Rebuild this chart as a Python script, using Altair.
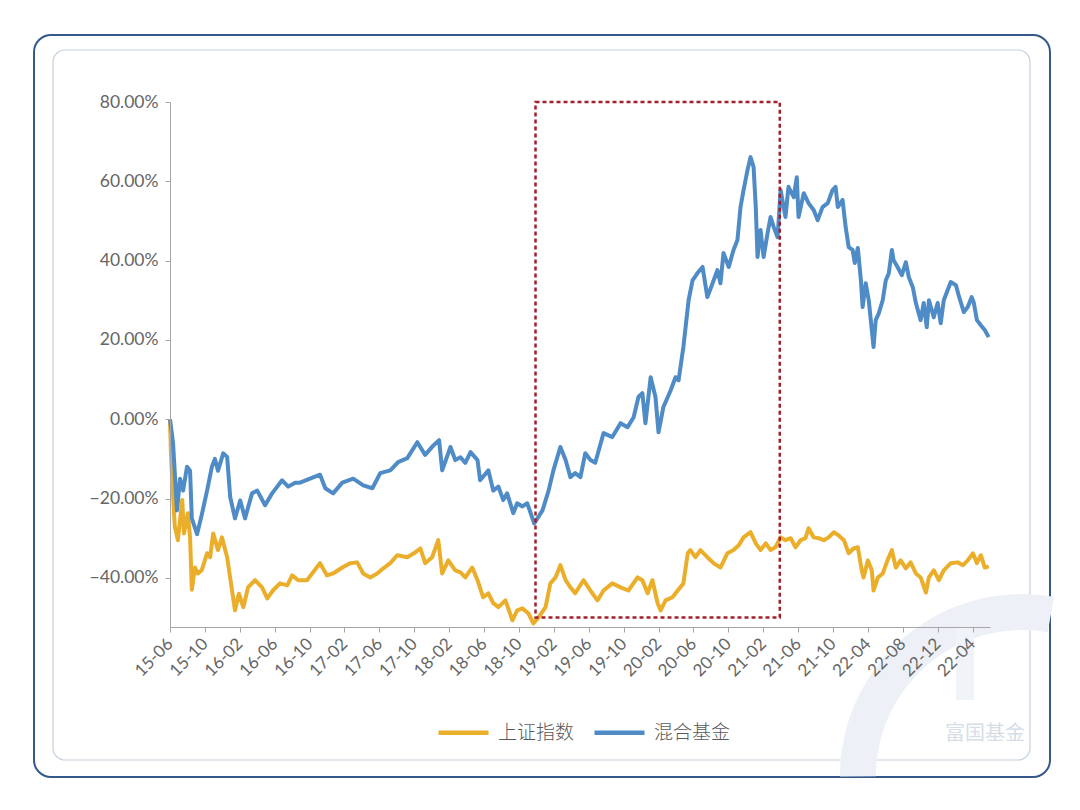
import altair as alt
import pandas as pd

# x is a trading-day style index: 80 units between consecutive axis labels
tick_labels = ["15-06", "15-10", "16-02", "16-06", "16-10", "17-02", "17-06", "17-10",
               "18-02", "18-06", "18-10", "19-02", "19-06", "19-10", "20-02", "20-06",
               "20-10", "21-02", "21-06", "21-10", "22-04", "22-08", "22-12", "22-04"]
tick_values = [0, 80, 160, 240, 320, 400, 480, 560, 640, 720, 800, 880, 960, 1040,
               1120, 1200, 1280, 1360, 1440, 1520, 1600, 1680, 1760, 1840]

y_ticks = [-40, -20, 0, 20, 40, 60, 80]

fund_x = [0, 7, 16, 23, 30, 39, 46, 50, 62, 73, 85, 96, 103, 110, 122, 131, 138, 149, 161, 172,
          188, 200, 218, 234, 257, 271, 287, 298, 321, 344, 356, 374, 395, 420, 443, 464, 482,
          505, 523, 544, 567, 585, 604, 617, 624, 643, 654, 666, 677, 689, 705, 711, 730, 741,
          753, 764, 773, 787, 796, 808, 819, 826, 835, 854, 868, 879, 895, 907, 918, 929, 941,
          952, 964, 975, 994, 1014, 1033, 1049, 1063, 1074, 1083, 1090, 1102, 1113, 1120, 1131,
          1148, 1159, 1166, 1177, 1189, 1198, 1209, 1221, 1232, 1244, 1255, 1262, 1269, 1281,
          1292, 1301, 1308, 1315, 1324, 1331, 1338, 1343, 1347, 1354, 1361, 1370, 1377, 1384,
          1393, 1400, 1411, 1418, 1430, 1437, 1441, 1453, 1464, 1476, 1485, 1496, 1508, 1519,
          1526, 1531, 1542, 1549, 1556, 1565, 1570, 1577, 1584, 1588, 1595, 1602, 1613, 1618,
          1625, 1634, 1641, 1648, 1655, 1659, 1668, 1678, 1687, 1694, 1703, 1710, 1721, 1728,
          1735, 1740, 1751, 1760, 1767, 1774, 1783, 1790, 1802, 1808, 1820, 1829, 1838, 1843,
          1850, 1859, 1868, 1877]
fund_y = [0, -6, -23, -15, -18, -12, -13, -25, -29, -24, -18, -12, -10, -13, -8.6, -9.5, -19.6,
          -25, -20.5, -25, -18.7, -18, -21.7, -18.7, -15.4, -17, -16, -16, -15, -14, -17.4, -18.7,
          -16, -15, -16.7, -17.4, -13.6, -12.9, -10.8, -9.8, -5.8, -9, -6.6, -5.3, -12.9, -7,
          -10.3, -9.6, -11, -8.3, -10.3, -15.4, -12.9, -18, -17, -20.4, -18.7, -23.7, -21.2, -22,
          -21.2, -23.4, -26.3, -23, -18, -12.9, -7, -10.3, -14.6, -13.6, -14.6, -8.6, -10.3, -11,
          -3.5, -4.5, -1, -2, 0.5, 5.6, 6.6, -1, 10.6, 5.6, -3.3, 3, 7.3, 10.6, 9.8, 18.2, 30,
          35, 36.8, 38.4, 30.8, 34.3, 37.6, 34.3, 41.9, 38.4, 42.7, 45.2, 53.5, 57.8, 62.8, 66.1,
          63.6, 53.5, 40.9, 47.7, 40.9, 46.9, 51, 48.5, 45.9, 57.8, 51, 58.6, 56, 61, 51, 57,
          54.5, 52.7, 50.2, 53.5, 54.5, 57.8, 58.6, 53.5, 55.3, 48.5, 43.4, 42.7, 39.4, 43.2, 35,
          28.3, 34.3, 30, 18.2, 25, 26.7, 30, 35, 36.8, 42.7, 40.1, 38.4, 36.3, 39.6, 35.8, 33.3,
          29.3, 25, 29.3, 23.2, 30, 25.7, 29.3, 24.2, 30, 32.6, 34.6, 33.8, 31.3, 27, 28.3, 30.8,
          29.3, 25, 23.7, 22.5, 20.7]

index_x = [0, 2, 5, 11, 18, 23, 28, 32, 41, 46, 50, 57, 64, 73, 85, 92, 99, 110, 119, 131, 142,
           149, 158, 168, 179, 195, 211, 223, 236, 252, 269, 280, 294, 314, 328, 344, 360, 374,
           395, 413, 429, 443, 459, 475, 489, 505, 521, 544, 562, 574, 585, 601, 615, 624, 638,
           654, 666, 677, 693, 705, 718, 730, 741, 753, 769, 785, 796, 808, 822, 833, 845, 861,
           872, 884, 895, 907, 918, 929, 948, 964, 980, 994, 1014, 1033, 1051, 1072, 1083, 1095,
           1106, 1118, 1125, 1136, 1152, 1164, 1177, 1187, 1193, 1205, 1216, 1232, 1246, 1262,
           1278, 1292, 1304, 1315, 1331, 1343, 1354, 1366, 1377, 1388, 1400, 1411, 1423, 1434,
           1446, 1457, 1464, 1476, 1487, 1499, 1510, 1522, 1533, 1545, 1556, 1567, 1577, 1586,
           1590, 1600, 1609, 1613, 1623, 1634, 1645, 1655, 1664, 1675, 1687, 1698, 1710, 1721,
           1733, 1740, 1751, 1763, 1774, 1790, 1806, 1818, 1829, 1841, 1850, 1859, 1868, 1877]
index_y = [0, -8, -15.4, -27, -30.5, -25.5, -20.4, -28.8, -23.7, -29.8, -43, -37.4, -38.9, -38,
           -33.8, -34.8, -28.8, -33, -29.8, -34.8, -43, -48.2, -44, -47.4, -42.4, -40.6, -42.4,
           -45.2, -43.2, -41.4, -41.9, -39.4, -40.6, -40.6, -38.6, -36.3, -39.4, -38.9, -37.4,
           -36.3, -36.1, -38.9, -39.9, -38.9, -37.6, -36.3, -34.3, -34.8, -33.6, -32.6, -36.3,
           -34.8, -30.5, -38.9, -35.6, -38.1, -38.6, -39.9, -37.4, -40.6, -44.9, -43.9, -46.4,
           -47.4, -45.7, -50.7, -48.2, -47.7, -49, -51.5, -50, -47.4, -41.4, -39.9, -36.8, -40.6,
           -42.4, -43.9, -40.6, -43.2, -45.7, -43.2, -41.4, -42.4, -43.2, -39.9, -40.6, -43.9,
           -40.6, -46.4, -48.2, -45.7, -44.9, -43.2, -41.4, -33.8, -33, -34.8, -33, -34.8, -36.3,
           -37.4, -33.8, -33, -31.8, -29.8, -28.5, -31.3, -33, -31.3, -33, -32.3, -29.8, -30.5,
           -30, -32.3, -30.5, -30, -27.5, -29.8, -30, -30.5, -29.8, -28.5, -29.3, -30.5, -33.8,
           -32.6, -32.3, -38.1, -39.9, -35.6, -38.1, -43.2, -39.9, -38.9, -35.6, -33, -37.4,
           -35.6, -37.6, -36.1, -38.9, -39.9, -43.7, -39.9, -38.1, -40.6, -38.1, -36.3, -36.1,
           -36.8, -35.6, -33.8, -36.3, -34.3, -37.4, -37.1]

series_names = ["上证指数", "混合基金"]
series_colors = ["#EAAE2A", "#4F8BC6"]

box_x = [838, 1398]
box_y = [-50, 80]

rows = ([{"x": a, "y": b, "s": "上证指数"} for a, b in zip(index_x, index_y)] +
        [{"x": a, "y": b, "s": "混合基金"} for a, b in zip(fund_x, fund_y)])
df = pd.DataFrame(rows)

FONT = "Noto Sans CJK SC"
NUMFONT = "Lato"
L, T = 170, 102
one = alt.Data(values=[{}])

outer = alt.Chart(one).mark_rect(fill="white", fillOpacity=0, stroke="#34598A",
                                 strokeWidth=2, cornerRadius=17).encode(
    x=alt.value(34 - L), x2=alt.value(1050 - L), y=alt.value(35 - T), y2=alt.value(777 - T))
inner = alt.Chart(one).mark_rect(fill="white", fillOpacity=0, stroke="#C5D1DD",
                                 strokeWidth=1.2, cornerRadius=12).encode(
    x=alt.value(53 - L), x2=alt.value(1030 - L), y=alt.value(50 - T), y2=alt.value(760 - T))
ring = alt.Chart(one).mark_arc(color="#EDF1F7").encode(
    x=alt.value(1022 - L), y=alt.value(776 - T), theta=alt.value(4.71), theta2=alt.value(6.46),
    radius=alt.value(182), radius2=alt.value(146))
bar = alt.Chart(one).mark_rect(color="#F0F3F8").encode(
    x=alt.value(956 - L), x2=alt.value(974 - L), y=alt.value(628 - T), y2=alt.value(700 - T))
wm = alt.Chart(one).mark_text(text="富国基金", font=FONT, fontSize=20, color="#D6DDE7",
                              align="center", baseline="middle").encode(
    x=alt.value(985 - L), y=alt.value(734 - T))

x_enc = alt.X("x:Q", scale=alt.Scale(domain=[0, 1880], nice=False, zero=False),
              axis=alt.Axis(values=tick_values, tickCount=40, title=None, grid=False,
                            labelExpr="%s[round(datum.value/80)]" % str(tick_labels),
                            labelAngle=315, labelAlign="right", labelBaseline="middle",
                            labelFontSize=17, labelColor="#666666", labelFont=NUMFONT,
                            labelPadding=9, tickSize=5, labelOverlap=False, labelFlush=False,
                            labelBound=False, zindex=1,
                            domainColor="#A6A6A6", tickColor="#A6A6A6"))
y_enc = alt.Y("y:Q", scale=alt.Scale(domain=[-52.4, 80], nice=False, zero=False),
              axis=alt.Axis(values=y_ticks, title=None, grid=False,
                            labelExpr="format(datum.value, '.2f') + '%'",
                            labelFontSize=17.5, labelColor="#666666", labelFont=NUMFONT,
                            labelPadding=7, tickSize=5, zindex=1,
                            domainColor="#A6A6A6", tickColor="#A6A6A6"))

lines = alt.Chart(df).mark_line(strokeWidth=4, strokeJoin="round").encode(
    x=x_enc, y=y_enc,
    color=alt.Color("s:N", sort=series_names,
                    scale=alt.Scale(domain=series_names, range=series_colors),
                    legend=alt.Legend(title=None, orient="none", legendX=266, legendY=603,
                                      direction="horizontal", symbolType="stroke",
                                      symbolStrokeWidth=4.5, symbolSize=2500,
                                      labelFontSize=19, labelColor="#595959", labelFont=FONT,
                                      labelFontWeight=300,
                                      labelOffset=7, columnPadding=10, padding=0)),
    order=alt.Order("x:Q"))

box_df = pd.DataFrame({"x": [box_x[0]], "x2": [box_x[1]], "y": [box_y[0]], "y2": [box_y[1]]})
box = alt.Chart(box_df).mark_rect(fill="white", fillOpacity=0, stroke="#A21F2C",
                                  strokeWidth=2.5, strokeDash=[4, 3]).encode(
    x="x:Q", x2="x2:Q", y="y:Q", y2="y2:Q")

chart = alt.layer(outer, inner, ring, bar, wm, lines, box).properties(
    width=820, height=525, autosize="none",
    padding={"left": L, "top": T, "right": 1080 - L - 820, "bottom": 810 - T - 525},
    background="white",
).configure_view(stroke=None)

chart.save("out.html", embed_options={"renderer": "svg", "actions": False})
